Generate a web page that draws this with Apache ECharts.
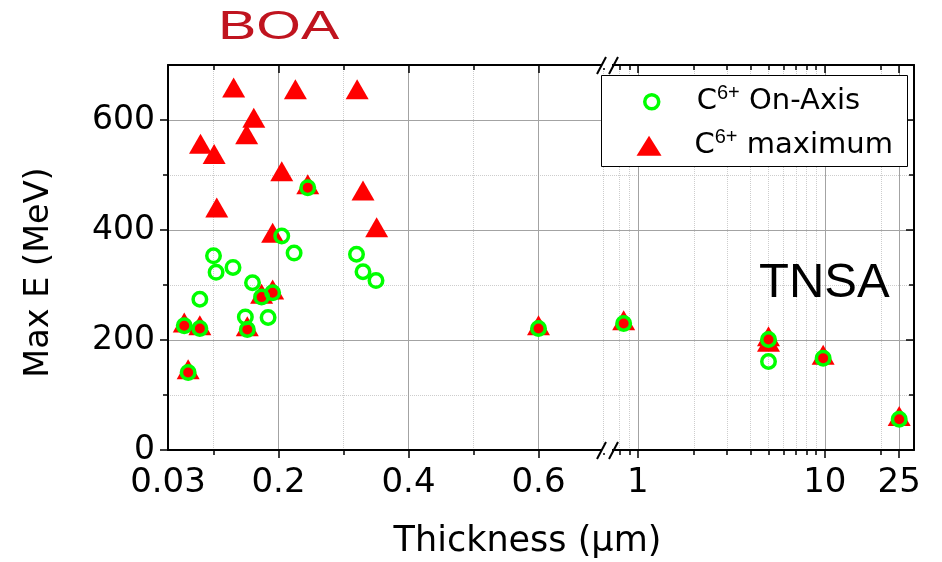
<!DOCTYPE html>
<html>
<head>
<meta charset="utf-8">
<script src="https://cdn.jsdelivr.net/npm/echarts@6/dist/echarts.min.js"></script>
<style>
  html, body { margin: 0; padding: 0; background: #fff; }
  #chart { width: 942px; height: 562px; }
</style>
</head>
<body>
<div id="chart"></div>
<script>
// Target thickness (µm) and cut-off energy of C6+ ions (MeV)
const onAxisThickness = [0.055, 0.079, 0.061, 0.152, 0.149, 0.184, 0.079, 0.100, 0.104, 0.130,
                         0.160, 0.174, 0.191, 0.205, 0.224, 0.245, 0.320, 0.330, 0.350, 0.6,
                         0.84, 5, 5, 9.8, 25];
const onAxisEnergy    = [226, 221, 141, 219, 242, 241, 274, 353, 323, 332,
                         304, 278, 286, 389, 358, 477, 356, 324, 308, 221,
                         230, 201, 161, 167, 56];

const maxThickness = [0.131, 0.226, 0.321, 0.162, 0.151, 0.080, 0.101, 0.205, 0.330, 0.105,
                      0.351, 0.191, 0.245, 0.055, 0.079, 0.061, 0.152, 0.174, 0.191, 0.6,
                      0.84, 5, 5, 9.8, 25];
const maxEnergy    = [653, 650, 650, 598, 568, 551, 532, 501, 466, 435,
                      399, 389, 477, 226, 221, 141, 219, 278, 286, 221,
                      230, 201, 191, 167, 56];

// Tick values
const linearTickLabels = [0.03, 0.2, 0.4, 0.6];
const linearMajorTicks = [0.2, 0.4, 0.6];
const linearMinorTicks = [0.1, 0.3, 0.5, 0.7];
const logTickLabels    = [1, 10, 25];
const logMinorTicks    = [0.8, 0.9, 2, 3, 4, 5, 6, 7, 8, 9, 20];
const energyTickLabels = [0, 200, 400, 600];
const energyMinorTicks = [100, 300, 500];

// The thickness axis is linear up to the break, logarithmic after it
const BREAK_AT = 0.71;
const LIN_RANGE = [0.03, BREAK_AT];
const LOG_RANGE = [BREAK_AT, 30];
const ENERGY_RANGE = [0, 700];

const ON_NAME = 'C6+ On-Axis';
const MAX_NAME = 'C6+ maximum';

function part(xs, ys, logPart) {
  const out = [];
  xs.forEach((x, i) => { if ((x > BREAK_AT) === logPart) out.push([x, ys[i]]); });
  return out;
}

const FONT = 'DejaVu Sans';
const MAJOR_GRID = { show: true, lineStyle: { color: '#a3a3a3', width: 1, type: 'solid' } };
const MINOR_GRID = { show: true, lineStyle: { color: '#cdcdcd', width: 1, type: 'dotted' } };
const fmt = v => String(+(+v).toPrecision(6));

function axis(dim, o) {
  const a = {
    type: o.type || 'value',
    gridIndex: o.grid,
    position: o.position,
    min: o.range[0],
    max: o.range[1],
    silent: true,
    axisPointer: { show: false },
    axisLine: { show: !!o.line, onZero: false, lineStyle: { color: '#000', width: 2 } },
    axisTick: { show: true, inside: !!o.inside, length: o.len, customValues: o.ticks,
                lineStyle: { color: '#000', width: 1.5 } },
    axisLabel: { show: false },
    splitLine: o.split || { show: false }
  };
  if (o.type === 'log') a.logBase = 10;
  if (o.labels) {
    a.axisLabel = { show: true, customValues: o.labels, formatter: fmt, margin: o.margin,
                    color: '#000', fontFamily: FONT, fontSize: o.fontSize };
  }
  return Object.assign(a, o.extra || {});
}

const xAxes = [
  // linear part
  axis('x', { grid: 0, position: 'bottom', range: LIN_RANGE, line: true, len: 8, ticks: linearMajorTicks,
              labels: linearTickLabels, margin: 16, fontSize: 34, split: MAJOR_GRID,
              extra: { name: 'Thickness (\u03bcm)', nameLocation: 'middle', nameGap: 74,
                       nameTextStyle: { fontFamily: FONT, fontSize: 35, color: '#000', padding: [0, 0, 0, 277] } } }),
  axis('x', { grid: 0, position: 'bottom', range: LIN_RANGE, len: 5, ticks: linearMinorTicks, split: MINOR_GRID }),
  axis('x', { grid: 0, position: 'top', range: LIN_RANGE, line: true, inside: true, len: 8, ticks: linearMajorTicks }),
  axis('x', { grid: 0, position: 'top', range: LIN_RANGE, inside: true, len: 5, ticks: linearMinorTicks }),
  // logarithmic part
  axis('x', { grid: 1, type: 'log', position: 'bottom', range: LOG_RANGE, line: true, len: 8, ticks: logTickLabels,
              labels: logTickLabels, margin: 16, fontSize: 34, split: MAJOR_GRID }),
  axis('x', { grid: 1, type: 'log', position: 'bottom', range: LOG_RANGE, len: 5, ticks: logMinorTicks, split: MINOR_GRID }),
  axis('x', { grid: 1, type: 'log', position: 'top', range: LOG_RANGE, line: true, inside: true, len: 8, ticks: logTickLabels }),
  axis('x', { grid: 1, type: 'log', position: 'top', range: LOG_RANGE, inside: true, len: 5, ticks: logMinorTicks })
];

const yAxes = [
  axis('y', { grid: 0, position: 'left', range: ENERGY_RANGE, line: true, len: 8, ticks: energyTickLabels,
              labels: energyTickLabels, margin: 13, fontSize: 33, split: MAJOR_GRID,
              extra: { name: 'Max E (MeV)', nameLocation: 'middle', nameGap: 112,
                       nameTextStyle: { fontFamily: FONT, fontSize: 33.5, color: '#000', padding: [0, 30, 0, 0] } } }),
  axis('y', { grid: 0, position: 'left', range: ENERGY_RANGE, len: 5, ticks: energyMinorTicks, split: MINOR_GRID }),
  axis('y', { grid: 1, position: 'right', range: ENERGY_RANGE, line: true, inside: true, len: 8, ticks: energyTickLabels,
              split: MAJOR_GRID }),
  axis('y', { grid: 1, position: 'right', range: ENERGY_RANGE, inside: true, len: 5, ticks: energyMinorTicks,
              split: MINOR_GRID })
];

const triangleStyle = {
  type: 'scatter', symbol: 'triangle', symbolSize: [23, 20], symbolOffset: [0, -3.3],
  itemStyle: { color: '#ff0000', opacity: 1 }, z: 3, emphasis: { disabled: true }
};
const circleStyle = {
  type: 'scatter', symbol: 'circle', symbolSize: 13.5,
  itemStyle: { color: 'rgba(0,0,0,0)', borderColor: '#00ff00', borderWidth: 3.5, opacity: 1 }, z: 4,
  emphasis: { disabled: true }
};

const legendRich = (gap) => ({
  g: { width: gap },
  b: { fontFamily: FONT, fontSize: 29, lineHeight: 36, color: '#000' },
  s: { fontFamily: 'Liberation Sans', fontSize: 20, lineHeight: 20, verticalAlign: 'top', color: '#000' }
});

function breakMark(y) {
  return [
    { type: 'rect', z: 20, silent: true, shape: { x: 602, y: y - 3, width: 10, height: 6 }, style: { fill: '#fff' } },
    { type: 'line', z: 21, silent: true, shape: { x1: 597, y1: y + 9, x2: 606, y2: y - 8 }, style: { stroke: '#000', lineWidth: 2 } },
    { type: 'line', z: 21, silent: true, shape: { x1: 609, y1: y + 9, x2: 618, y2: y - 8 }, style: { stroke: '#000', lineWidth: 2 } }
  ];
}

const chart = echarts.init(document.getElementById('chart'), null, { renderer: 'canvas' });
chart.setOption({
  animation: false,
  backgroundColor: '#fff',
  textStyle: { fontFamily: FONT },
  grid: [
    { left: 168, top: 65, width: 442, height: 385, outerBoundsMode: 'none' },
    { left: 610, top: 65, width: 304, height: 385, outerBoundsMode: 'none' }
  ],
  xAxis: xAxes,
  yAxis: yAxes,
  legend: [
    { data: [{ name: ON_NAME, icon: 'circle' }], left: 643, top: 83.7, padding: 0, itemWidth: 14, itemHeight: 14,
      selectedMode: false, itemStyle: { borderWidth: 3.5, opacity: 1 },
      formatter: () => '{g| }{b|C}{s|6+}{b| On-Axis}', textStyle: { rich: legendRich(33) } },
    { data: [{ name: MAX_NAME, icon: 'triangle' }], left: 636.5, top: 127.8, padding: 0, itemWidth: 25, itemHeight: 20,
      selectedMode: false, itemStyle: { borderWidth: 0, opacity: 1 },
      formatter: () => '{g| }{b|C}{s|6+}{b| maximum}', textStyle: { rich: legendRich(28) } }
  ],
  graphic: [
    { type: 'rect', z: 3, silent: true, shape: { x: 601.5, y: 75.5, width: 306, height: 91 },
      style: { fill: '#fff', stroke: '#000', lineWidth: 1 } },
    { type: 'text', z: 5, silent: true, x: 218, y: 28, scaleX: 1.4,
      style: { text: 'BOA', x: 0, y: 0, fill: '#c0141f', font: '41px "Liberation Sans"', verticalAlign: 'middle' } },
    { type: 'text', z: 5, silent: true, x: 759, y: 283,
      style: { text: 'TNSA', x: 0, y: 0, fill: '#000', font: '49px "Liberation Sans"', verticalAlign: 'middle' } },
    ...breakMark(450),
    ...breakMark(65)
  ],
  series: [
    Object.assign({ name: MAX_NAME, xAxisIndex: 0, yAxisIndex: 0, data: part(maxThickness, maxEnergy, false) }, triangleStyle),
    Object.assign({ name: MAX_NAME, xAxisIndex: 4, yAxisIndex: 2, data: part(maxThickness, maxEnergy, true) }, triangleStyle),
    Object.assign({ name: ON_NAME, xAxisIndex: 0, yAxisIndex: 0, data: part(onAxisThickness, onAxisEnergy, false) }, circleStyle),
    Object.assign({ name: ON_NAME, xAxisIndex: 4, yAxisIndex: 2, data: part(onAxisThickness, onAxisEnergy, true) }, circleStyle)
  ]
});
</script>
</body>
</html>
